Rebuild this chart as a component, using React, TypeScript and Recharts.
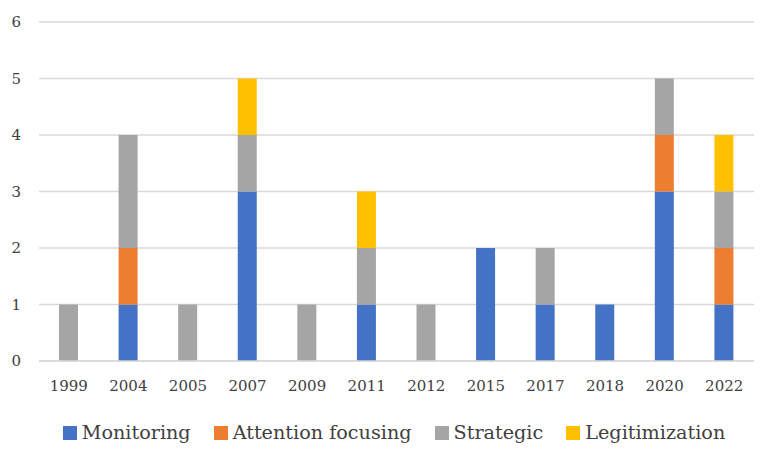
import React from "react";
import { BarChart, Bar, XAxis, YAxis, CartesianGrid, Legend } from "recharts";

const years = ["1999", "2004", "2005", "2007", "2009", "2011", "2012", "2015", "2017", "2018", "2020", "2022"];
const monitoring = [0, 1, 0, 3, 0, 1, 0, 2, 1, 1, 3, 1];
const attention = [0, 1, 0, 0, 0, 0, 0, 0, 0, 0, 1, 1];
const strategic = [1, 2, 1, 1, 1, 1, 1, 0, 1, 0, 1, 1];
const legitimization = [0, 0, 0, 1, 0, 1, 0, 0, 0, 0, 0, 1];
const yTicks = [0, 1, 2, 3, 4, 5, 6];

const data = years.map((year, i) => ({
  year,
  monitoring: monitoring[i],
  attention: attention[i],
  strategic: strategic[i],
  legitimization: legitimization[i],
}));

const COLORS = {
  monitoring: "#4472C4",
  attention: "#ED7D31",
  strategic: "#A5A5A5",
  legitimization: "#FFC000",
  grid: "#D9D9D9",
  text: "#404040",
};

const FONT = "'DejaVu Serif', serif";

const LEGEND_ITEMS = [
  { label: "Monitoring", color: COLORS.monitoring },
  { label: "Attention focusing", color: COLORS.attention },
  { label: "Strategic", color: COLORS.strategic },
  { label: "Legitimization", color: COLORS.legitimization },
];

function ChartLegend() {
  return (
    <div style={{ display: "flex", justifyContent: "center", gap: 23, fontFamily: FONT, fontSize: 19.2, color: COLORS.text, paddingLeft: 34 }}>
      {LEGEND_ITEMS.map((it) => (
        <div key={it.label} style={{ display: "flex", alignItems: "center", gap: 5 }}>
          <span style={{ width: 14, height: 14, background: it.color, display: "inline-block" }} />
          <span>{it.label}</span>
        </div>
      ))}
    </div>
  );
}

export default function App() {
  return (
    <div style={{ position: "absolute", left: 0, top: 0, width: 770, height: 452, background: "#fff", fontFamily: FONT }}>
      <BarChart
        width={770}
        height={452}
        data={data}
        margin={{ top: 22, right: 16, bottom: 8, left: 0 }}
        barSize={19}
      >
        <CartesianGrid vertical={false} stroke={COLORS.grid} strokeWidth={1.3} />
        <XAxis
          dataKey="year"
          axisLine={{ stroke: COLORS.grid, strokeWidth: 1.3 }}
          tickLine={false}
          tick={{ fill: COLORS.text, fontSize: 15, fontFamily: FONT }}
          tickMargin={13}
          height={60}
        />
        <YAxis
          domain={[0, 6]}
          ticks={yTicks}
          axisLine={false}
          tickLine={false}
          tickSize={0}
          tickMargin={18}
          width={39}
          tick={{ fill: COLORS.text, fontSize: 15, fontFamily: FONT }}
        />
        <Legend verticalAlign="bottom" content={() => <ChartLegend />} />
        <Bar dataKey="monitoring" name="Monitoring" stackId="a" fill={COLORS.monitoring} isAnimationActive={false} />
        <Bar dataKey="attention" name="Attention focusing" stackId="a" fill={COLORS.attention} isAnimationActive={false} />
        <Bar dataKey="strategic" name="Strategic" stackId="a" fill={COLORS.strategic} isAnimationActive={false} />
        <Bar dataKey="legitimization" name="Legitimization" stackId="a" fill={COLORS.legitimization} isAnimationActive={false} />
      </BarChart>
    </div>
  );
}
